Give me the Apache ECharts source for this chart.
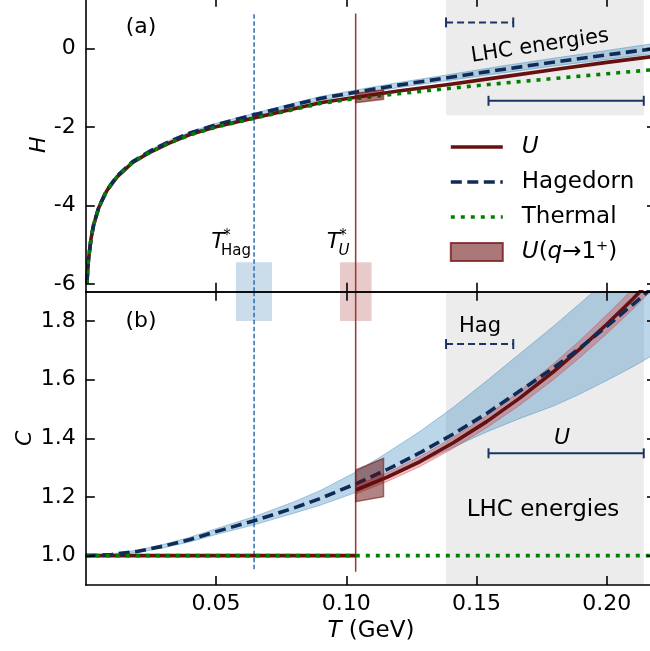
<!DOCTYPE html>
<html>
<head>
<meta charset="utf-8">
<script src="https://cdn.jsdelivr.net/npm/echarts@6/dist/echarts.min.js"></script>
<style>
html, body { margin: 0; padding: 0; background: #fff; }
#chart { width: 650px; height: 651px; }
</style>
</head>
<body>
<div id="chart"></div>
<script>
// panel (a): H as a function of T (GeV)
var tTop = [0.0004, 0.001, 0.002, 0.003, 0.005, 0.008, 0.012, 0.018, 0.025, 0.032, 0.040, 0.050, 0.065, 0.080, 0.090, 0.1036, 0.120, 0.140, 0.160, 0.180, 0.200, 0.219];
var hThermal = [-6.0, -5.4, -4.85, -4.5, -4.05, -3.63, -3.27, -2.9, -2.63, -2.41, -2.2, -2.0, -1.77, -1.55, -1.40, -1.27, -1.15, -1.01, -0.88, -0.76, -0.64, -0.53];
var hU = [-6.0, -5.4, -4.85, -4.5, -4.05, -3.63, -3.27, -2.9, -2.63, -2.41, -2.19, -1.99, -1.76, -1.53, -1.38, -1.24, -1.08, -0.91, -0.72, -0.53, -0.35, -0.19];
var hHag = [-6.0, -5.4, -4.85, -4.49, -4.04, -3.61, -3.25, -2.88, -2.6, -2.37, -2.15, -1.94, -1.68, -1.43, -1.27, -1.11, -0.93, -0.73, -0.53, -0.34, -0.16, 0.01];
var hHagLow = [-6.02, -5.42, -4.87, -4.51, -4.06, -3.63, -3.275, -2.905, -2.63, -2.40, -2.18, -1.975, -1.72, -1.475, -1.32, -1.165, -0.995, -0.805, -0.62, -0.44, -0.275, -0.12];
var hHagHigh = [-5.98, -5.38, -4.83, -4.47, -4.02, -3.59, -3.225, -2.855, -2.57, -2.34, -2.12, -1.905, -1.64, -1.385, -1.22, -1.055, -0.865, -0.655, -0.44, -0.24, -0.045, 0.14];

// panel (b): C as a function of T
var tBot = [0, 0.01, 0.02, 0.03, 0.04, 0.05, 0.065, 0.08, 0.09, 0.1036, 0.1155, 0.1283, 0.1411, 0.1539, 0.1667, 0.1795, 0.1897, 0.2, 0.2102, 0.219];
var cHag = [1.0, 1.004, 1.015, 1.033, 1.055, 1.082, 1.12, 1.163, 1.195, 1.245, 1.293, 1.351, 1.415, 1.485, 1.562, 1.640, 1.708, 1.782, 1.858, 1.925];
var cHagLow = [1.0, 1.002, 1.011, 1.027, 1.047, 1.072, 1.106, 1.145, 1.172, 1.215, 1.262, 1.315, 1.37, 1.422, 1.468, 1.51, 1.551, 1.597, 1.645, 1.69];
var cHagHigh = [1.0, 1.006, 1.019, 1.039, 1.063, 1.092, 1.134, 1.184, 1.222, 1.285, 1.35, 1.424, 1.506, 1.596, 1.689, 1.782, 1.86, 1.94, 2.02, 2.09];
var tU = [0.1036, 0.1155, 0.1283, 0.1411, 0.1539, 0.1667, 0.1795, 0.1897, 0.2, 0.2102, 0.219];
var cU = [1.224, 1.267, 1.321, 1.385, 1.457, 1.538, 1.627, 1.705, 1.789, 1.877, 1.958];
var cULow = [1.21, 1.252, 1.304, 1.366, 1.436, 1.514, 1.600, 1.676, 1.757, 1.842, 1.92];
var cUHigh = [1.238, 1.282, 1.338, 1.404, 1.478, 1.562, 1.654, 1.734, 1.821, 1.912, 1.996];
var tULow = [0, 0.1036];
var cULowT = [1.0, 1.0];
var tThermalB = [0, 0.219];
var cThermalB = [1.0, 1.0];

// U(q -> 1+) patches
var tPatch = [0.1036, 0.1143];
var hPatchLow = [-1.38, -1.29];
var hPatchHigh = [-1.14, -1.05];
var cPatchLow = [1.184, 1.201];
var cPatchHigh = [1.292, 1.332];

// markers
var tStarHag = 0.0646;
var tStarHagErr = [0.0576, 0.0715];
var tStarU = 0.1036;
var tStarUErr = [0.0976, 0.1097];
var lhcRange = [0.1383, 0.2142];
var hagRange = [0.1383, 0.1641];
var uRange = [0.1546, 0.2142];

var xTicks = [0.05, 0.10, 0.15, 0.20];
var hTicks = [-6, -4, -2, 0];
var cTicks = [1.0, 1.2, 1.4, 1.6, 1.8];

var XMAX = 0.2189;
var FONT = 'DejaVu Sans';
var C_U = '#661010', C_HAG = '#0f2c58', C_TH = '#008000', C_BAR = '#1a3563';
var HAG_DASH = [11, 5.5], DOTS = [4, 6];

function pairs(xs, ys) {
  return xs.map(function (x, i) { return [x, ys[i]]; });
}

function xAxisCfg(grid, pos, labels) {
  var ax = {
    type: 'value', gridIndex: grid, position: pos, min: 0, max: XMAX, z: 10,
    axisLine: {show: true, onZero: false, lineStyle: {color: '#000', width: 1.6}},
    axisTick: {show: true, inside: true, length: 9, customValues: xTicks, lineStyle: {color: '#000', width: 1.6}},
    axisLabel: {show: labels, customValues: xTicks, margin: 8, fontSize: 22, fontFamily: FONT, color: '#000',
      formatter: function (v) { return v.toFixed(2); }},
    splitLine: {show: false}
  };
  if (labels) {
    ax.name = '{i|T} (GeV)';
    ax.nameLocation = 'middle';
    ax.nameGap = 35;
    ax.nameMoveOverlap = false;
    ax.nameTextStyle = {fontSize: 23, fontFamily: FONT, color: '#000',
      rich: {i: {fontStyle: 'italic', fontSize: 23, fontFamily: FONT}}};
  }
  return ax;
}

function yAxisCfg(grid, pos, min, max, ticks, name, gap, fmt) {
  var ax = {
    type: 'value', gridIndex: grid, position: pos, min: min, max: max, z: 10,
    axisLine: {show: true, onZero: false, lineStyle: {color: '#000', width: 1.6}},
    axisTick: {show: true, inside: true, length: 9, customValues: ticks, lineStyle: {color: '#000', width: 1.6}},
    axisLabel: {show: pos === 'left', customValues: ticks, margin: 10, fontSize: 22, fontFamily: FONT, color: '#000', formatter: fmt},
    splitLine: {show: false}
  };
  if (name) {
    ax.name = '{i|' + name + '}';
    ax.nameLocation = 'middle';
    ax.nameGap = gap;
    ax.nameMoveOverlap = false;
    ax.nameTextStyle = {rich: {i: {fontStyle: 'italic', fontSize: 22, fontFamily: FONT, color: '#000'}}};
  }
  return ax;
}

function curve(name, g, xs, ys, color, type, z) {
  return {
    type: 'line', name: name, xAxisIndex: g * 2, yAxisIndex: g * 2, data: pairs(xs, ys),
    symbol: 'none', smooth: false, silent: true, z: z,
    itemStyle: {color: color},
    lineStyle: {color: color, width: 3.6, type: type, cap: 'butt', join: 'round'}
  };
}

// filled band between lo and hi, drawn once as a polygon through the axes
function band(name, g, xs, lo, hi, fill, edge, lw, z) {
  return {
    type: 'custom', name: name, xAxisIndex: g * 2, yAxisIndex: g * 2, clip: true, silent: true, z: z,
    itemStyle: {color: fill},
    data: xs.map(function (x, i) { return [x, lo[i], hi[i]]; }),
    encode: {x: 0, y: [1, 2]},
    renderItem: function (params, api) {
      if (params.dataIndexInside !== 0) return null;
      var n = params.dataInsideLength, up = [], dn = [];
      for (var i = 0; i < n; i++) {
        up.push(api.coord([api.value(0, i), api.value(2, i)]));
        dn.unshift(api.coord([api.value(0, i), api.value(1, i)]));
      }
      return {type: 'polygon', shape: {points: up.concat(dn)},
        style: {fill: fill, stroke: edge, lineWidth: lw}};
    }
  };
}

function vline(g, x, y0, y1, color, type) {
  return {
    type: 'line', name: 'v', xAxisIndex: g * 2, yAxisIndex: g * 2, data: [[x, y0], [x, y1]],
    symbol: 'none', silent: true, z: 3,
    lineStyle: {color: color, width: 1.5, type: type}
  };
}

function rangeBar(g, range, y, type) {
  return {
    type: 'line', name: 'bar', xAxisIndex: g * 2, yAxisIndex: g * 2,
    data: [[range[0], y], [range[1], y]],
    symbol: 'rect', symbolSize: [2, 10], showSymbol: true, silent: true, z: 8,
    itemStyle: {color: C_BAR},
    lineStyle: {color: C_BAR, width: 2, type: type}
  };
}

function regions(g, lhcLo, yLo, yHi) {
  var lhc = g === 0
    ? [{xAxis: lhcRange[0], yAxis: lhcLo, itemStyle: {color: '#ececec'}}, {xAxis: lhcRange[1], yAxis: yHi}]
    : [{xAxis: lhcRange[0], itemStyle: {color: '#ececec'}}, {xAxis: lhcRange[1]}];
  return {
    type: 'line', name: 'regions', xAxisIndex: g * 2, yAxisIndex: g * 2, data: [], silent: true, z: 1,
    markArea: {silent: true, label: {show: false}, data: [
      lhc,
      [{xAxis: tStarHagErr[0], yAxis: yLo[0], itemStyle: {color: 'rgba(70,130,180,0.28)'}}, {xAxis: tStarHagErr[1], yAxis: yLo[1]}],
      [{xAxis: tStarUErr[0], yAxis: yLo[0], itemStyle: {color: 'rgba(165,42,42,0.25)'}}, {xAxis: tStarUErr[1], yAxis: yLo[1]}]
    ]}
  };
}

function txt(text, x, y, size, opts) {
  opts = opts || {};
  return {
    type: 'text', x: x, y: y, rotation: opts.rot || 0, z: 20, silent: true,
    style: {
      text: text, fill: '#000', fontSize: size, fontFamily: FONT,
      fontStyle: opts.italic ? 'italic' : 'normal',
      align: 'center', verticalAlign: 'middle',
      textAlign: 'center', textVerticalAlign: 'middle',
      rich: {i: {fontStyle: 'italic', fontSize: size, fontFamily: FONT}}
    }
  };
}

var legendLabels = {
  'U': '{i|U}',
  'Hagedorn': 'Hagedorn',
  'Thermal': 'Thermal',
  'Uq': '{i|U}({i|q}→1⁺)'
};

var chart = echarts.init(document.getElementById('chart'), null, {renderer: 'canvas'});

chart.setOption({
  animation: false,
  backgroundColor: '#fff',
  grid: [
    {left: 85.8, top: -2.3, width: 570.2, height: 294, outerBoundsMode: 'none'},
    {left: 85.8, top: 291.7, width: 570.2, height: 293.3, outerBoundsMode: 'none'}
  ],
  xAxis: [
    xAxisCfg(0, 'bottom', false),
    xAxisCfg(0, 'top', false),
    xAxisCfg(1, 'bottom', true),
    xAxisCfg(1, 'top', false)
  ],
  yAxis: [
    yAxisCfg(0, 'left', -6.2, 1.3, hTicks, 'H', 36, function (v) { return String(v); }),
    yAxisCfg(0, 'right', -6.2, 1.3, hTicks),
    yAxisCfg(1, 'left', 0.9, 1.9, cTicks, 'C', 50, function (v) { return v.toFixed(1); }),
    yAxisCfg(1, 'right', 0.9, 1.9, cTicks)
  ],
  legend: {
    left: 449, top: 129.5, orient: 'vertical', padding: 0, itemGap: 0,
    itemWidth: 52, itemHeight: 18, selectedMode: false,
    lineStyle: {width: 3.6},
    itemStyle: {opacity: 0},
    textStyle: {fontSize: 23, fontFamily: FONT, color: '#000', lineHeight: 35, padding: [0, 0, 0, 14],
      rich: {i: {fontStyle: 'italic', fontSize: 23, fontFamily: FONT, lineHeight: 35}}},
    formatter: function (n) { return legendLabels[n]; },
    data: [
      {name: 'U'},
      {name: 'Hagedorn'},
      {name: 'Thermal'},
      {name: 'Uq', icon: 'rect', itemStyle: {opacity: 1, color: 'rgba(100,10,10,0.55)', borderColor: 'rgba(120,25,25,0.8)', borderWidth: 2}}
    ]
  },
  series: [
    regions(0, -1.7, [-6.2, -5.45], 1.3),
    regions(1, null, [1.9, 1.8], 1.9),

    band('hagBand', 0, tTop, hHagLow, hHagHigh, 'rgba(31,119,180,0.3)', 'rgba(31,119,180,0.35)', 1, 2),
    band('hagBand', 1, tBot, cHagLow, cHagHigh, 'rgba(31,119,180,0.3)', 'rgba(31,119,180,0.35)', 1, 2),
    band('uBand', 1, tU, cULow, cUHigh, 'rgba(214,39,40,0.3)', 'rgba(214,39,40,0.35)', 1, 2),

    vline(0, tStarHag, 0.88, -6.2, '#2a6db3', [4.5, 2.5]),
    vline(1, tStarHag, 1.9, 0.945, '#2a6db3', [4.5, 2.5]),
    vline(0, tStarU, 0.9, -6.2, '#9e3535', 'solid'),
    vline(1, tStarU, 1.9, 0.945, '#9e3535', 'solid'),

    curve('U', 0, tTop, hU, C_U, 'solid', 4),
    curve('U', 1, tULow, cULowT, C_U, 'solid', 4),
    curve('U', 1, tU, cU, C_U, 'solid', 4),
    curve('Hagedorn', 0, tTop, hHag, C_HAG, HAG_DASH, 5),
    curve('Hagedorn', 1, tBot, cHag, C_HAG, HAG_DASH, 5),
    curve('Thermal', 0, tTop, hThermal, C_TH, DOTS, 6),
    curve('Thermal', 1, tThermalB, cThermalB, C_TH, DOTS, 6),

    band('Uq', 0, tPatch, hPatchLow, hPatchHigh, 'rgba(100,10,10,0.55)', 'rgba(120,25,25,0.6)', 1.5, 7),
    band('Uq', 1, tPatch, cPatchLow, cPatchHigh, 'rgba(100,10,10,0.5)', 'rgba(120,25,25,0.6)', 1.5, 7),

    rangeBar(0, hagRange, 0.67, [7, 4]),
    rangeBar(0, uRange, -1.33, 'solid'),
    rangeBar(1, hagRange, 1.7215, [7, 4]),
    rangeBar(1, uRange, 1.349, 'solid')
  ],
  graphic: [
    txt('(a)', 141, 27, 22),
    txt('(b)', 141, 321.7, 22),
    txt('LHC energies', 540, 46, 21, {rot: 0.148}),
    txt('LHC energies', 543, 510, 23),
    txt('Hag', 480, 326.5, 21),
    txt('U', 562, 438, 22, {italic: true}),
    txt('T', 218, 242, 22, {italic: true}),
    txt('*', 227, 236, 15),
    txt('Hag', 236, 251, 15),
    txt('T', 333.5, 242, 22, {italic: true}),
    txt('*', 343, 236, 15),
    txt('U', 344, 251.5, 15, {italic: true})
  ]
});
</script>
</body>
</html>
